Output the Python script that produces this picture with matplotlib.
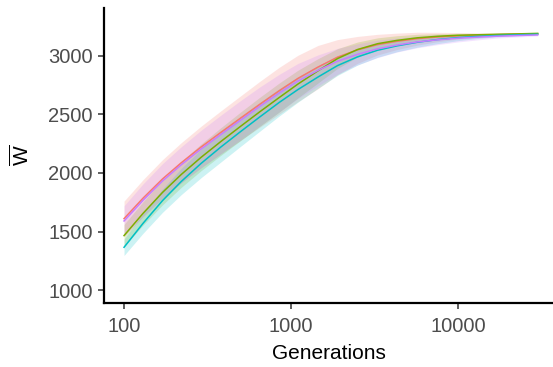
import matplotlib
matplotlib.use('Agg')
import matplotlib.pyplot as plt
import numpy as np

plt.rcParams['font.family'] = ['Liberation Sans', 'DejaVu Sans']
plt.rcParams['mathtext.fontset'] = 'custom'
plt.rcParams['mathtext.rm'] = 'Liberation Sans'

# -- DATA --
generations = [100, 130, 170, 220, 290, 380, 500, 650, 850, 1100, 1450, 1900,
               2500, 3300, 4300, 5700, 7500, 10000, 13000, 17000, 23000, 30000]

w_red = [1610, 1785, 1949, 2087, 2223, 2347, 2470, 2587, 2703, 2808, 2905, 2990,
         3052, 3097, 3125, 3148, 3162, 3172, 3177, 3182, 3186, 3190]
w_green = [1465, 1655, 1834, 1987, 2135, 2269, 2400, 2523, 2645, 2760, 2873, 2978,
           3055, 3105, 3133, 3155, 3168, 3177, 3181, 3185, 3189, 3193]
w_cyan = [1365, 1570, 1764, 1927, 2083, 2222, 2355, 2479, 2603, 2713, 2820, 2918,
          2992, 3049, 3086, 3117, 3140, 3157, 3167, 3175, 3181, 3186]
w_purple = [1590, 1767, 1932, 2070, 2206, 2329, 2452, 2569, 2683, 2786, 2877, 2955,
            3014, 3061, 3093, 3120, 3138, 3152, 3161, 3169, 3175, 3180]

# ribbon half-widths
sd_red = [150, 158, 165, 172, 178, 184, 190, 196, 200, 198, 185, 150,
          115, 88, 70, 55, 40, 28, 20, 14, 10, 8]
sd_green = [95, 100, 106, 110, 114, 118, 122, 124, 124, 118, 104, 84,
            64, 50, 40, 30, 22, 16, 12, 9, 7, 6]
sd_cyan = [70, 85, 100, 112, 122, 128, 126, 122, 116, 108, 96, 84,
           70, 60, 50, 42, 35, 26, 18, 12, 9, 7]
sd_purple = [130, 140, 148, 154, 160, 165, 168, 166, 160, 150, 132, 110,
             90, 75, 60, 50, 42, 32, 24, 16, 12, 9]

series = [
    (w_red, sd_red, '#F8766D'),
    (w_green, sd_green, '#7CAE00'),
    (w_cyan, sd_cyan, '#00BFC4'),
    (w_purple, sd_purple, '#C77CFF'),
]

# -- PLOT --
fig = plt.figure(figsize=(5.53, 3.67), dpi=100)
ax = fig.add_axes([104 / 553, 1 - 303 / 367, 449 / 553, 295 / 367])

for w, sd, color in series:
    w = np.array(w)
    sd = np.array(sd)
    ax.fill_between(generations, w - sd, w + sd, color=color, alpha=0.2, linewidth=0)

for w, sd, color in series:
    ax.plot(generations, w, color=color, linewidth=1.1)

ax.set_xscale('log')
ax.set_xlim(10 ** 1.880, 10 ** 4.569)
ax.set_ylim(889, 3410)
ax.set_xticks([100, 1000, 10000])
ax.set_xticklabels(['100', '1000', '10000'])
ax.minorticks_off()
ax.set_yticks([1000, 1500, 2000, 2500, 3000])

for side in ['top', 'right']:
    ax.spines[side].set_visible(False)
for side in ['left', 'bottom']:
    ax.spines[side].set_linewidth(1.6)
    ax.spines[side].set_color('black')

ax.tick_params(axis='both', length=4, width=1.1, color='#333333',
               labelcolor='#4D4D4D', labelsize=14.5, pad=4)
ax.tick_params(axis='x', pad=6)

ax.set_xlabel('Generations', fontsize=15, color='black', labelpad=6)
ax.set_ylabel(r'$\overline{\mathrm{W}}$', fontsize=15, color='black', va='center')
ax.yaxis.set_label_coords(-0.185, 0.5)

plt.savefig('out.png', dpi=100)
plt.close(fig)
